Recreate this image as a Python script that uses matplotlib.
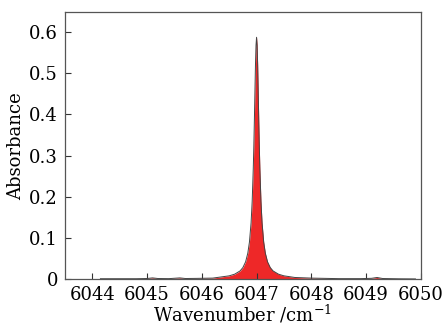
import matplotlib
matplotlib.use("Agg")
import matplotlib.pyplot as plt

# spectrum (wavenumber in cm^-1, absorbance)
wavenumber = [6044.15, 6044.5, 6044.8, 6045.0, 6045.1, 6045.2, 6045.4, 6045.6, 6045.7, 6045.9,
              6046.2, 6046.5, 6046.6, 6046.7, 6046.75, 6046.8, 6046.84, 6046.87, 6046.9, 6046.92,
              6046.94, 6046.95, 6046.96, 6046.97, 6046.98, 6046.99, 6047.0,
              6047.01, 6047.02, 6047.03, 6047.04, 6047.05, 6047.06, 6047.08, 6047.1, 6047.13,
              6047.16, 6047.2, 6047.25, 6047.3, 6047.4, 6047.5, 6047.7, 6048.0, 6048.5,
              6048.9, 6049.1, 6049.2, 6049.3, 6049.6, 6049.9]
absorbance = [0.001, 0.001, 0.001, 0.0015, 0.003, 0.0015, 0.0012, 0.003, 0.0015, 0.0018,
              0.0025, 0.008, 0.012, 0.020, 0.028, 0.042, 0.063, 0.090, 0.137, 0.189,
              0.269, 0.322, 0.385, 0.453, 0.520, 0.568, 0.587,
              0.568, 0.520, 0.453, 0.385, 0.322, 0.269, 0.189, 0.137, 0.090,
              0.063, 0.042, 0.028, 0.020, 0.012, 0.008, 0.004, 0.0025, 0.0012,
              0.0012, 0.002, 0.004, 0.0015, 0.0008, 0.0005]

xticks = [6044, 6045, 6046, 6047, 6048, 6049, 6050]
yticks = [0, 0.1, 0.2, 0.3, 0.4, 0.5, 0.6]
ytick_labels = ["0", "0.1", "0.2", "0.3", "0.4", "0.5", "0.6"]

plt.rcParams['font.family'] = ['DejaVu Serif']
plt.rcParams['mathtext.fontset'] = 'dejavuserif'

fig = plt.figure(figsize=(4.44, 3.28), dpi=100)
ax = fig.add_axes([0.146, 0.149, 0.802, 0.814])

ax.fill_between(wavenumber, absorbance, 0, color="#ee2828", linewidth=0)
ax.plot(wavenumber, absorbance, color="#444444", linewidth=0.7)

ax.set_xlim(6043.5, 6050)
ax.set_ylim(0, 0.648)
ax.set_xticks(xticks)
ax.set_yticks(yticks)
ax.set_yticklabels(ytick_labels)
ax.tick_params(direction="in", length=4, width=0.8, labelsize=13, pad=5, color="#333333")

for s in ax.spines.values():
    s.set_color("#555555")
    s.set_linewidth(0.9)

ax.set_xlabel(r"Wavenumber /cm$^{-1}$", fontsize=13, labelpad=-1)
ax.set_ylabel("Absorbance", fontsize=13, labelpad=3)

fig.savefig("out.png", dpi=100)
